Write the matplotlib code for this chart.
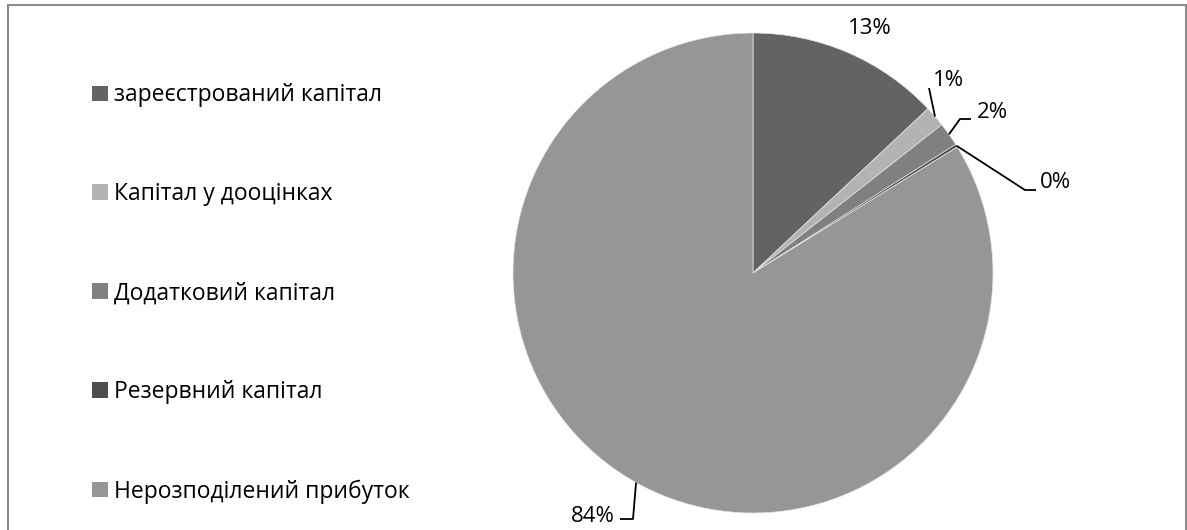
import matplotlib.pyplot as plt
import numpy as np
from matplotlib.patches import Rectangle

# data
labels = ['зареєстрований капітал', 'Капітал у дооцінках', 'Додатковий капітал',
          'Резервний капітал', 'Нерозподілений прибуток']
shares = [13.0, 1.4, 1.6, 0.2, 83.8]
colors = ['#636363', '#b3b3b3', '#808080', '#4d4d4d', '#969696']

W, H = 1187, 530
plt.rcParams['font.family'] = ['Open Sans', 'DejaVu Sans']

fig = plt.figure(figsize=(W / 100, H / 100), dpi=100)
ax = fig.add_axes([0, 0, 1, 1])

cx, cy, r = 753, H - 273, 240
wedges, _ = ax.pie(shares, colors=colors, startangle=90, counterclock=False,
                   center=(cx, cy), radius=r, frame=True,
                   wedgeprops=dict(linewidth=0.5, edgecolor='#e6e6e6'))
ax.set_xlim(0, W)
ax.set_ylim(0, H)
ax.axis('off')

# label layout: text position and leader line bends (pixels, from top)
lay = [
    dict(tx=870, ty=28, ha='center', pts=None),
    dict(tx=933, ty=81, ha='left', pts=[(929, 88)]),
    dict(tx=977, ty=112, ha='left', pts=[(960, 119), (971, 119)]),
    dict(tx=1040, ty=183, ha='left', pts=[(1025, 190), (1036, 190)]),
    dict(tx=615, ty=516, ha='right', pts=[(633, 519), (620, 519)]),
]
for w, v, L in zip(wedges, shares, lay):
    mid = np.deg2rad((w.theta1 + w.theta2) / 2)
    ax0, ay0 = cx + r * np.cos(mid), cy + r * np.sin(mid)
    if L['pts']:
        xs = [ax0] + [p[0] for p in L['pts']]
        ys = [ay0] + [H - p[1] for p in L['pts']]
        ax.plot(xs, ys, color='black', lw=1.3, solid_capstyle='butt')
    ax.text(L['tx'], H - L['ty'], f'{round(v):.0f}%', ha=L['ha'], va='center',
            fontsize=16, color='black')

leg = ax.legend(wedges, labels, loc='upper left', bbox_to_anchor=(81 / W, 1 - 72 / H),
                frameon=False, fontsize=16.5, handlelength=0.68, handleheight=0.68,
                handletextpad=0.25, labelspacing=3.27, borderpad=0)
for h in leg.legend_handles:
    h.set_edgecolor('none')

fig.add_artist(Rectangle((7.5 / W, -0.1), (1186 - 7.5) / W, 1.1 - 4.5 / H,
                         transform=fig.transFigure, fill=False,
                         edgecolor='#8c8c8c', lw=1.5))

fig.savefig('out.png', dpi=100)
